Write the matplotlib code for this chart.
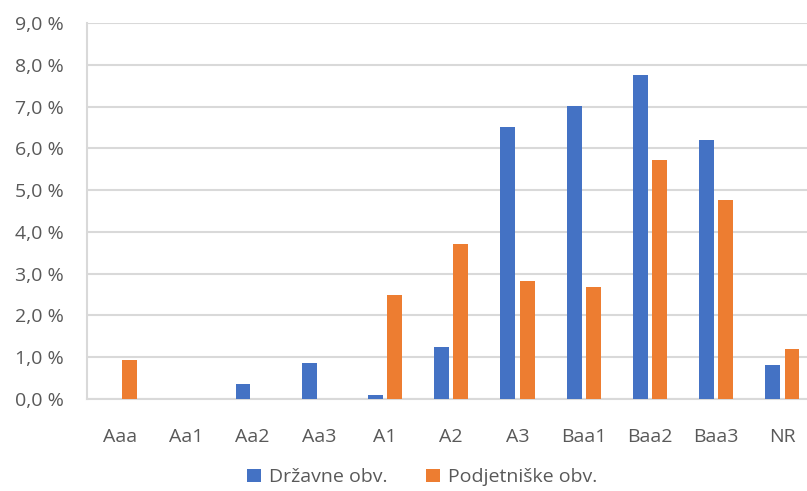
import matplotlib.pyplot as plt
import numpy as np
from matplotlib.ticker import FuncFormatter

# ratingi in deleži
kategorije = ['Aaa', 'Aa1', 'Aa2', 'Aa3', 'A1', 'A2', 'A3', 'Baa1', 'Baa2', 'Baa3', 'NR']
drzavne = [0.0, 0.0, 0.36, 0.86, 0.09, 1.24, 6.51, 7.01, 7.75, 6.20, 0.81]
podjetniske = [0.93, 0.0, 0.0, 0.0, 2.49, 3.71, 2.82, 2.68, 5.72, 4.76, 1.20]
serije = ['Državne obv.', 'Podjetniške obv.']

plt.rcParams['font.family'] = ['Open Sans', 'DejaVu Sans']
siva = '#595959'
mreza = '#d9d9d9'

fig = plt.figure(figsize=(8.07, 4.91), dpi=100)
ax = fig.add_axes([87 / 807, 92 / 491, 728.5 / 807, 376 / 491])

x = np.arange(len(kategorije))
w = 0.225
ax.bar(x - 0.145, drzavne, w, color='#4472C4', label=serije[0], zorder=3)
ax.bar(x + 0.145, podjetniske, w, color='#ED7D31', label=serije[1], zorder=3)

ax.set_xlim(-0.5, len(kategorije) - 0.5)
ax.set_ylim(0, 9)
ax.set_yticks(np.arange(0, 10, 1))
ax.yaxis.set_major_formatter(FuncFormatter(lambda v, p: f'{v:.1f} %'.replace('.', ',')))
ax.set_xticks(x)
ax.set_xticklabels(kategorije)

ax.grid(axis='y', color=mreza, linewidth=1.5, zorder=0)
for s in ['top', 'right']:
    ax.spines[s].set_visible(False)
for s in ['left', 'bottom']:
    ax.spines[s].set_color(mreza)
    ax.spines[s].set_linewidth(1.5)

ax.tick_params(axis='both', length=0, labelsize=14, colors=siva)
ax.tick_params(axis='y', pad=17)
ax.tick_params(axis='x', pad=21)

leg = fig.legend(loc='center', bbox_to_anchor=(0.523, 0.028), ncol=2, frameon=False,
                 fontsize=14, handlelength=0.7, handleheight=0.7, handletextpad=0.4,
                 columnspacing=2.0, borderpad=0.1)
for t in leg.get_texts():
    t.set_color(siva)

fig.savefig('out.png', dpi=100)
